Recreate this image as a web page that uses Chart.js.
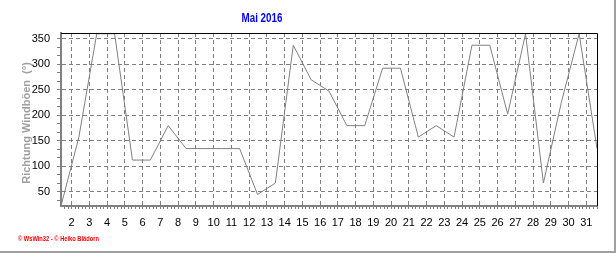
<!DOCTYPE html>
<html>
<head>
<meta charset="utf-8">
<script src="https://cdn.jsdelivr.net/npm/chart.js@4/dist/chart.umd.min.js"></script>
<style>
  body { margin: 0; background: #fff; }
  #wrap { width: 616px; height: 253px; }
</style>
</head>
<body>
<div id="wrap"><canvas id="windChart" width="616" height="253"></canvas></div>
<script>
// Daily gust direction, May 2016 (degrees)
const days = [1, 2, 3, 4, 5, 6, 7, 8, 9, 10, 11, 12, 13, 14, 15, 16,
              17, 18, 19, 20, 21, 22, 23, 24, 25, 26, 27, 28, 29, 30, 31];
const direction = [22.5, 157.5, 360, 360, 112.5, 112.5, 180, 135, 135, 135, 135, 45, 67.5, 337.5, 270, 247.5,
                   180, 180, 292.5, 292.5, 157.5, 180, 157.5, 337.5, 337.5, 202.5, 360, 67.5, 225, 360, 135];
const dayTicks = [2, 3, 4, 5, 6, 7, 8, 9, 10, 11, 12, 13, 14, 15, 16, 17,
                  18, 19, 20, 21, 22, 23, 24, 25, 26, 27, 28, 29, 30, 31];
const yTicks = [50, 100, 150, 200, 250, 300, 350];

const chartTitle = 'Mai 2016';
const yTitle = 'Richtung Windböen  (°)';
const footer = '© WsWin32 - © Heiko Blädorn';

const GRID = '#808080';

function near(a, b) { return Math.abs(a - b) < 1e-6; }

// minor ticks: 3 per 50° on y, 5 per day on x
function buildYTicks(scale) {
    let t = [];
    for (let i = 0; i < yTicks.length; i++) {
        const m = yTicks[i];
        t.push({value: m - 100 / 3}, {value: m - 50 / 3}, {value: m});
    }
    scale.ticks = t.filter(o => o.value >= scale.min && o.value <= scale.max);
}

function buildXTicks(scale) {
    let t = [];
    for (let d = 1; d <= 31; d++) {
        for (let k = 0; k < 5; k++) {
            const v = d + k / 5;
            if (v > scale.min + 0.05 && v <= scale.max) t.push({value: v});
        }
    }
    scale.ticks = t;
}

const decor = {
    id: 'decor',
    afterDraw(chart) {
        const ctx = chart.ctx;
        const a = chart.chartArea;
        ctx.save();
        // top / right frame of the plot
        ctx.strokeStyle = '#000';
        ctx.lineWidth = 1;
        ctx.beginPath();
        ctx.moveTo(a.left, a.top + 0.5);
        ctx.lineTo(a.right + 0.5, a.top + 0.5);
        ctx.lineTo(a.right + 0.5, a.bottom);
        ctx.stroke();

        // window edge
        ctx.fillStyle = '#a0a0a0';
        ctx.fillRect(614, 0, 2, 253);
        ctx.fillRect(0, 251, 616, 2);

        // title
        ctx.fillStyle = '#0000ff';
        ctx.font = 'bold 12px "Liberation Sans", Arial, sans-serif';
        ctx.textAlign = 'center';
        ctx.textBaseline = 'middle';
        ctx.fillText(chartTitle, 262, 19, 41);

        // y axis title
        ctx.save();
        ctx.translate(27, 123);
        ctx.rotate(-Math.PI / 2);
        ctx.fillStyle = '#a0a0a0';
        ctx.font = 'bold 11px "Liberation Sans", Arial, sans-serif';
        ctx.fillText(yTitle, 0, 0);
        ctx.restore();

        // footer
        ctx.fillStyle = '#ff0000';
        ctx.font = 'bold 7px "Liberation Sans", Arial, sans-serif';
        ctx.textAlign = 'left';
        ctx.fillText(footer, 18, 239, 81);
        ctx.restore();
    }
};

const ctx = document.getElementById('windChart');

new Chart(ctx, {
    type: 'line',
    data: {
        labels: days,
        datasets: [{
            label: 'Richtung Windböen',
            data: direction,
            borderColor: '#808080',
            borderWidth: 1,
            pointRadius: 0,
            tension: 0,
            fill: false,
            clip: false
        }]
    },
    options: {
        responsive: false,
        animation: false,
        events: [],
        layout: { padding: { left: 0, top: 33, right: 19, bottom: 0 } },
        plugins: {
            legend: { display: false },
            title: { display: false },
            tooltip: { enabled: false }
        },
        scales: {
            x: {
                type: 'category',
                display: false,
                offset: false
            },
            x2: {
                type: 'linear',
                position: 'bottom',
                min: 1.4,
                max: 31.6,
                afterBuildTicks: buildXTicks,
                afterFit: (s) => { s.height = 47; },
                border: { display: true, color: GRID, width: 2, dash: [4, 3] },
                grid: {
                    color: (c) => (c.tick && near(c.tick.value, Math.round(c.tick.value))) ? GRID : 'rgba(0,0,0,0)',
                    tickColor: GRID,
                    tickLength: 3,
                    lineWidth: 1
                },
                ticks: {
                    autoSkip: false,
                    maxRotation: 0,
                    padding: 7,
                    color: '#000',
                    font: { family: '"Liberation Sans", Arial, sans-serif', size: 11 },
                    callback: (v) => {
                        const d = Math.round(v);
                        return (near(v, d) && dayTicks.includes(d)) ? String(d) : '';
                    }
                }
            },
            y: {
                min: 22.5,
                max: 361.5,
                afterBuildTicks: buildYTicks,
                afterFit: (s) => { s.width = 61; },
                border: { display: true, color: GRID, width: 2, dash: [4, 3] },
                grid: {
                    color: (c) => (c.tick && yTicks.some(m => near(m, c.tick.value))) ? GRID : 'rgba(0,0,0,0)',
                    tickColor: GRID,
                    tickLength: 4,
                    lineWidth: 1
                },
                ticks: {
                    autoSkip: false,
                    padding: 7,
                    color: '#000',
                    font: { family: '"Liberation Sans", Arial, sans-serif', size: 11 },
                    callback: (v) => yTicks.some(m => near(m, v)) ? String(Math.round(v)) : ''
                }
            }
        }
    },
    plugins: [decor]
});
</script>
</body>
</html>
